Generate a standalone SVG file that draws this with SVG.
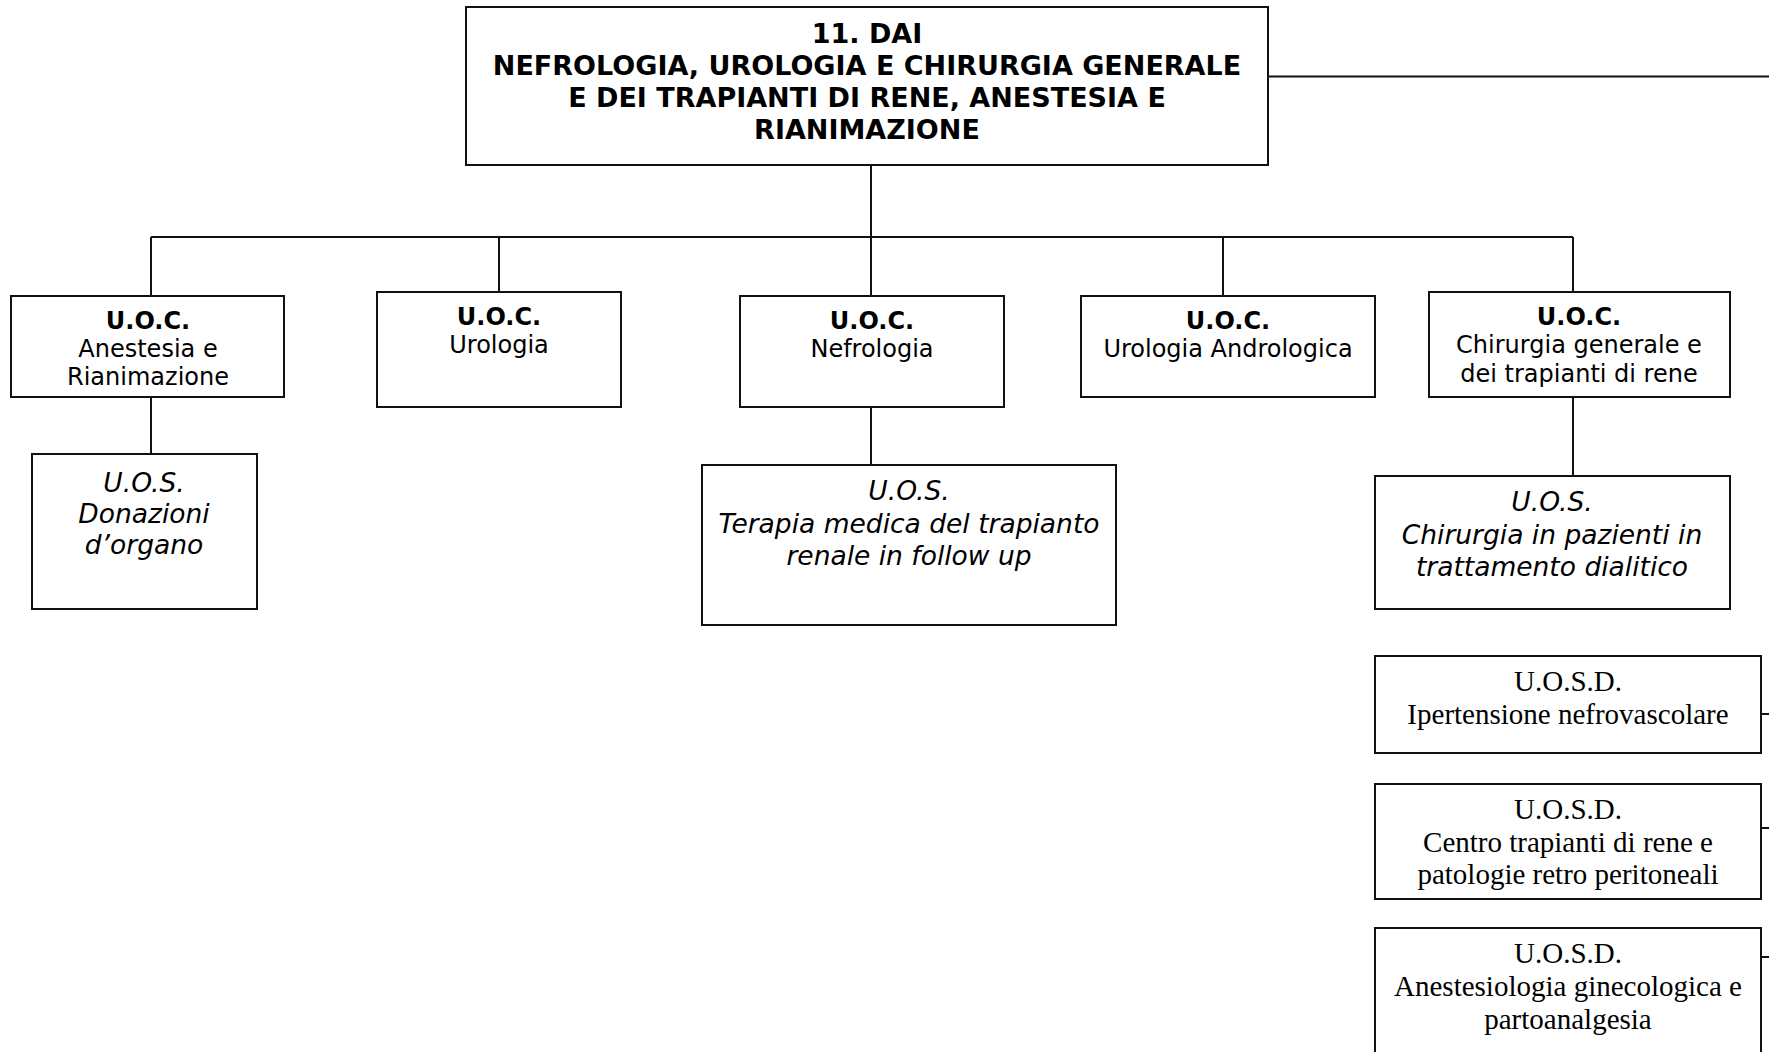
<svg xmlns="http://www.w3.org/2000/svg" width="1769" height="1052" viewBox="0 0 1769 1052">
<style>
.box{fill:#fff;stroke:#111;stroke-width:2}
.ln{fill:none;stroke:#111;stroke-width:2}
text{text-anchor:middle;fill:#000}
.t{font-family:"DejaVu Sans",Verdana,sans-serif;font-size:27px;font-weight:bold}
.b{font-family:"DejaVu Sans",Verdana,sans-serif;font-size:24px;font-weight:bold}
.s{font-family:"DejaVu Sans",Verdana,sans-serif;font-size:24px}
.i{font-family:"DejaVu Sans",Verdana,sans-serif;font-size:26.5px;font-style:italic}
.r{font-family:"Liberation Serif","Times New Roman",serif;font-size:29px}
</style>
<rect width="1769" height="1052" fill="#fff"/>
<g id="connectors">
<path class="ln" d="M1268 76.5H1769"/>
<path class="ln" d="M871 165V237"/>
<path class="ln" d="M151 237H1573"/>
<path class="ln" d="M151 237V296M499 237V292M871 237V296M1223 237V296M1573 237V292"/>
<path class="ln" d="M151 397V454"/>
<path class="ln" d="M871 407V465"/>
<path class="ln" d="M1573 397V476"/>
<path class="ln" d="M1761 714H1769M1761 828H1769M1761 957H1769"/>
</g>
<g id="dai">
<rect class="box" x="466" y="7" width="802" height="158"/>
<text class="t" x="867" y="43">11. DAI</text>
<text class="t" x="867" y="75">NEFROLOGIA, UROLOGIA E CHIRURGIA GENERALE</text>
<text class="t" x="867" y="107">E DEI TRAPIANTI DI RENE, ANESTESIA E</text>
<text class="t" x="867" y="139">RIANIMAZIONE</text>
</g>
<g id="uoc-anestesia">
<rect class="box" x="11" y="296" width="273" height="101"/>
<text class="b" x="148" y="329">U.O.C.</text>
<text class="s" x="148" y="357">Anestesia e</text>
<text class="s" x="148" y="385">Rianimazione</text>
</g>
<g id="uoc-urologia">
<rect class="box" x="377" y="292" width="244" height="115"/>
<text class="b" x="499" y="325">U.O.C.</text>
<text class="s" x="499" y="353">Urologia</text>
</g>
<g id="uoc-nefrologia">
<rect class="box" x="740" y="296" width="264" height="111"/>
<text class="b" x="872" y="329">U.O.C.</text>
<text class="s" x="872" y="357">Nefrologia</text>
</g>
<g id="uoc-urologia-andrologica">
<rect class="box" x="1081" y="296" width="294" height="101"/>
<text class="b" x="1228" y="329">U.O.C.</text>
<text class="s" x="1228" y="357">Urologia Andrologica</text>
</g>
<g id="uoc-chirurgia">
<rect class="box" x="1429" y="292" width="301" height="105"/>
<text class="b" x="1579" y="325">U.O.C.</text>
<text class="s" x="1579" y="353">Chirurgia generale e</text>
<text class="s" x="1579" y="382">dei trapianti di rene</text>
</g>
<g id="uos-donazioni">
<rect class="box" x="32" y="454" width="225" height="155"/>
<text class="i" x="144" y="492">U.O.S.</text>
<text class="i" x="144" y="523">Donazioni</text>
<text class="i" x="144" y="554">d’organo</text>
</g>
<g id="uos-terapia">
<rect class="box" x="702" y="465" width="414" height="160"/>
<text class="i" x="909" y="500">U.O.S.</text>
<text class="i" x="909" y="533">Terapia medica del trapianto</text>
<text class="i" x="909" y="565">renale in follow up</text>
</g>
<g id="uos-chirurgia">
<rect class="box" x="1375" y="476" width="355" height="133"/>
<text class="i" x="1552" y="511">U.O.S.</text>
<text class="i" x="1552" y="544">Chirurgia in pazienti in</text>
<text class="i" x="1552" y="576">trattamento dialitico</text>
</g>
<g id="uosd-ipertensione">
<rect class="box" x="1375" y="656" width="386" height="97"/>
<text class="r" x="1568" y="691">U.O.S.D.</text>
<text class="r" x="1568" y="724">Ipertensione nefrovascolare</text>
</g>
<g id="uosd-centro">
<rect class="box" x="1375" y="784" width="386" height="115"/>
<text class="r" x="1568" y="819">U.O.S.D.</text>
<text class="r" x="1568" y="852">Centro trapianti di rene e</text>
<text class="r" x="1568" y="884">patologie retro peritoneali</text>
</g>
<g id="uosd-anestesiologia">
<rect class="box" x="1375" y="928" width="386" height="140"/>
<text class="r" x="1568" y="963">U.O.S.D.</text>
<text class="r" x="1568" y="996">Anestesiologia ginecologica e</text>
<text class="r" x="1568" y="1029">partoanalgesia</text>
</g>
</svg>
